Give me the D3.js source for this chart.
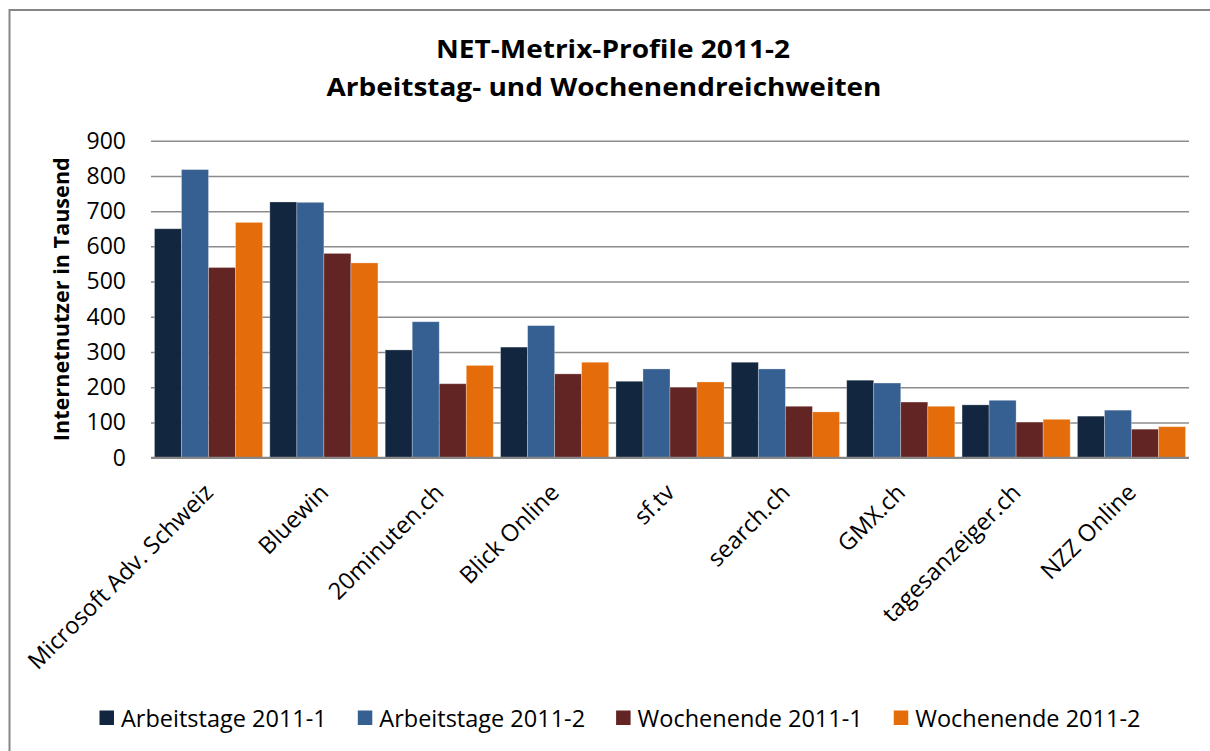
<!DOCTYPE html>
<html>
<head>
<meta charset="utf-8">
<script src="https://cdn.jsdelivr.net/npm/d3@7"></script>
<style>
  body { margin: 0; background: #fff; }
  text { font-family: "Open Sans", "DejaVu Sans", sans-serif; fill: #000; }
</style>
</head>
<body>
<div id="chart"></div>
<script>
// chart values
var categories = ["Microsoft Adv. Schweiz", "Bluewin", "20minuten.ch", "Blick Online",
                  "sf.tv", "search.ch", "GMX.ch", "tagesanzeiger.ch", "NZZ Online"];
var seriesNames = ["Arbeitstage 2011-1", "Arbeitstage 2011-2", "Wochenende 2011-1", "Wochenende 2011-2"];
var arbeitstage1 = [650, 726, 306, 314, 217, 271, 220, 150, 118];
var arbeitstage2 = [818, 725, 386, 375, 252, 252, 212, 163, 135];
var wochenende1  = [540, 580, 210, 238, 200, 146, 158, 101, 81];
var wochenende2  = [668, 553, 262, 271, 215, 130, 146, 109, 88];
var yTicks = [0, 100, 200, 300, 400, 500, 600, 700, 800, 900];
var colors = ["#12263f", "#366092", "#632523", "#e46c0a"];

var title1 = "NET-Metrix-Profile 2011-2";
var title2 = "Arbeitstag- und Wochenendreichweiten";
var yTitle = "Internetnutzer in Tausend";

var W = 1210, H = 751;
var plot = {left: 151, right: 1189, top: 140.7, bottom: 457.7};

var svg = d3.select("#chart").append("svg")
            .attr("width", W)
            .attr("height", H);

// outer chart frame (runs off the right/bottom edges)
svg.append("rect")
   .attr("x", 9.5).attr("y", 10)
   .attr("width", W + 20).attr("height", H + 20)
   .attr("fill", "none")
   .attr("stroke", "#868686")
   .attr("stroke-width", 2);

var x = d3.scaleBand()
          .domain(categories)
          .range([plot.left, plot.right])
          .paddingInner(0.063)
          .paddingOuter(0.03);

var xInner = d3.scaleBand()
               .domain(seriesNames)
               .range([0, x.bandwidth()]);

var y = d3.scaleLinear()
          .domain([0, 900])
          .range([plot.bottom, plot.top]);

// gridlines + y tick labels
var yAxis = svg.append("g")
   .attr("transform", "translate(" + plot.left + ",0)")
   .call(d3.axisLeft(y).tickValues(yTicks).tickSize(-(plot.right - plot.left)).tickPadding(25));
yAxis.select(".domain").remove();
yAxis.selectAll(".tick line")
     .attr("stroke", "#8c8c8c")
     .attr("stroke-width", 1.5);
yAxis.selectAll(".tick text")
     .attr("font-size", 23)
     .attr("font-family", "Open Sans")
     .attr("fill", "#000");

// bars
var seriesValues = [arbeitstage1, arbeitstage2, wochenende1, wochenende2];
var rows = [];
categories.forEach(function(c, i) {
  seriesNames.forEach(function(s, j) {
    rows.push({cat: c, series: s, idx: j, value: seriesValues[j][i]});
  });
});

svg.append("g").selectAll("rect")
   .data(rows)
   .join("rect")
   .attr("x", function(d) { return x(d.cat) + xInner(d.series); })
   .attr("y", function(d) { return y(d.value); })
   .attr("width", xInner.bandwidth())
   .attr("height", function(d) { return y(0) - y(d.value); })
   .attr("fill", function(d) { return colors[d.idx]; })
   .attr("stroke", "rgba(255,255,255,0.35)")
   .attr("stroke-width", 0.8);

// category axis line
svg.append("line")
   .attr("x1", plot.left).attr("x2", plot.right)
   .attr("y1", y(0)).attr("y2", y(0))
   .attr("stroke", "#868686")
   .attr("stroke-width", 2);

// rotated category labels
svg.append("g").selectAll("text")
   .data(categories)
   .join("text")
   .attr("transform", function(d) {
     return "translate(" + (x(d) + x.bandwidth() / 2 + 6) + ",494) rotate(-45)";
   })
   .attr("text-anchor", "end")
   .attr("font-size", 23.5)
   .text(function(d) { return d; });

// titles
svg.append("text")
   .attr("x", 613).attr("y", 58)
   .attr("text-anchor", "middle")
   .attr("font-size", 25).attr("font-weight", "bold")
   .attr("textLength", 354).attr("lengthAdjust", "spacingAndGlyphs")
   .text(title1);
svg.append("text")
   .attr("x", 604).attr("y", 96)
   .attr("text-anchor", "middle")
   .attr("font-size", 25).attr("font-weight", "bold")
   .attr("textLength", 555).attr("lengthAdjust", "spacingAndGlyphs")
   .text(title2);

svg.append("text")
   .attr("transform", "translate(69," + ((plot.top + plot.bottom) / 2) + ") rotate(-90)")
   .attr("text-anchor", "middle")
   .attr("font-size", 22).attr("font-weight", "bold")
   .attr("textLength", 284).attr("lengthAdjust", "spacingAndGlyphs")
   .text(yTitle);

// legend
var legend = svg.append("g").attr("transform", "translate(0,718)");
var lx = 99.5;
seriesNames.forEach(function(s, j) {
  legend.append("rect")
        .attr("x", lx).attr("y", -7.5)
        .attr("width", 14.5).attr("height", 14.5)
        .attr("fill", colors[j]);
  var t = legend.append("text")
        .attr("x", lx + 21.5).attr("y", 8.5)
        .attr("font-size", 23.5)
        .text(s);
  lx = lx + 21.5 + t.node().getComputedTextLength() + 31;
});
</script>
</body>
</html>
